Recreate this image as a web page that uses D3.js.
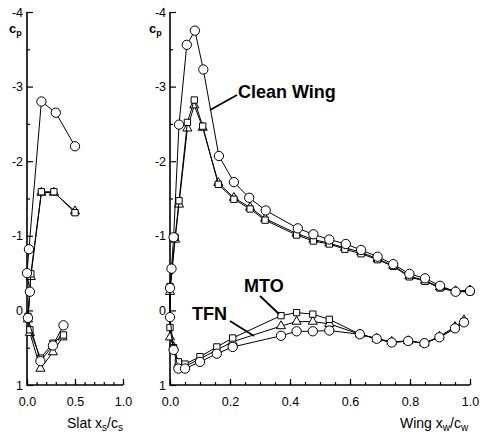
<!DOCTYPE html>
<html>
<head>
<meta charset="utf-8">
<script src="https://cdn.jsdelivr.net/npm/d3@7"></script>
<style>
  body { margin: 0; background: #fff; }
  text { font-family: "Liberation Sans", Arial, sans-serif; fill: #000; }
</style>
</head>
<body>
<div id="chart-area"></div>
<script>
// Slat pressure distribution, [x/c, cp], upper TE -> LE -> lower TE
const slatClean = [[0.50,-2.2],[0.30,-2.65],[0.15,-2.8],[0.02,-0.82],[0.0,-0.5],[0.03,-0.25],[0.01,0.1],[0.14,0.68],[0.27,0.47],[0.38,0.2]];
const slatMTO = [[0.50,-1.31],[0.28,-1.59],[0.15,-1.59],[0.04,-0.49],[0.01,0.08],[0.03,0.26],[0.14,0.64],[0.27,0.44],[0.38,0.33]];
const slatTFN = [[0.50,-1.33],[0.28,-1.58],[0.15,-1.58],[0.04,-0.45],[0.01,0.12],[0.03,0.3],[0.14,0.78],[0.27,0.56],[0.37,0.36]];

// Wing pressure distribution
const wingClean = [[1.0,-0.26],[0.952,-0.25],[0.9,-0.33],[0.85,-0.43],[0.798,-0.49],[0.744,-0.62],[0.692,-0.72],[0.637,-0.81],[0.586,-0.89],[0.531,-0.95],[0.478,-1.02],[0.426,-1.10],[0.319,-1.34],[0.264,-1.51],[0.213,-1.72],[0.163,-2.07],[0.111,-3.23],[0.083,-3.75],[0.056,-3.56],[0.03,-2.49],[0.012,-0.98],[0.005,-0.56],[0.0,-0.3],[0.0,0.09],[0.012,0.53],
  [0.028,0.78],[0.05,0.78],[0.1,0.69],[0.156,0.58],[0.209,0.49],[0.37,0.34],[0.422,0.28],[0.476,0.28],[0.531,0.27],[0.633,0.32],[0.689,0.38],[0.739,0.43],[0.794,0.41],[0.848,0.44],[0.898,0.36],[0.95,0.24],[0.98,0.16]];
const wingMTO = [[1.0,-0.25],[0.952,-0.25],[0.9,-0.30],[0.85,-0.39],[0.798,-0.45],[0.744,-0.59],[0.692,-0.68],[0.637,-0.76],[0.583,-0.82],[0.531,-0.89],[0.478,-0.93],[0.422,-1.01],[0.317,-1.21],[0.267,-1.36],[0.213,-1.49],[0.161,-1.69],[0.109,-2.47],[0.081,-2.82],[0.058,-2.52],[0.03,-1.47],[0.017,-0.98],[0.0,-0.32],[0.0,0.23],[0.012,0.5],
  [0.028,0.69],[0.05,0.72],[0.1,0.62],[0.156,0.49],[0.209,0.37],[0.37,0.07],[0.422,0.03],[0.476,0.05],[0.531,0.12],[0.633,0.32],[0.689,0.38],[0.739,0.43],[0.794,0.41],[0.848,0.44],[0.898,0.36],[0.95,0.24],[0.98,0.15]];
const wingTFN = [[1.0,-0.27],[0.952,-0.26],[0.9,-0.31],[0.85,-0.40],[0.798,-0.46],[0.744,-0.60],[0.692,-0.69],[0.637,-0.78],[0.583,-0.84],[0.531,-0.90],[0.478,-0.95],[0.422,-1.03],[0.317,-1.23],[0.267,-1.38],[0.213,-1.51],[0.161,-1.71],[0.109,-2.45],[0.081,-2.75],[0.058,-2.44],[0.03,-1.42],[0.017,-0.95],[0.0,-0.25],[0.0,0.36],[0.012,0.49],
  [0.028,0.72],[0.05,0.75],[0.1,0.65],[0.156,0.53],[0.209,0.42],[0.37,0.21],[0.422,0.15],[0.476,0.15],[0.531,0.18],[0.633,0.32],[0.689,0.38],[0.739,0.42],[0.794,0.41],[0.848,0.44],[0.898,0.35],[0.95,0.22],[0.98,0.13]];

const yTicks = [-4, -3, -2, -1, 0, 1];
const yMinor = [-3.5, -2.5, -1.5, -0.5, 0.5];
const slatTicks = [0, 0.5, 1];
const wingTicks = [0, 0.2, 0.4, 0.6, 0.8, 1];

const svg = d3.select("#chart-area").append("svg")
  .attr("width", 480).attr("height", 440);

const yScale = d3.scaleLinear().domain([-4, 1]).range([12, 385]);
const xSlat = d3.scaleLinear().domain([0, 1]).range([27, 123]);
const xWing = d3.scaleLinear().domain([0, 1]).range([170, 470]);

function drawAxes(x, majors, minorStep) {
  const g = svg.append("g");
  const left = x.range()[0];
  const bottom = yScale(1);
  const minors = d3.range(0, 1.0001, minorStep);

  // y axis, ticks pointing inward
  g.append("g").attr("transform", "translate(" + left + ",0)")
    .call(d3.axisLeft(yScale).tickValues(yTicks).tickSize(-6).tickPadding(4).tickFormat(d => String(d)));
  g.append("g").attr("transform", "translate(" + left + ",0)")
    .call(d3.axisLeft(yScale).tickValues(yMinor).tickSize(-3).tickFormat(""));
  // x axis
  g.append("g").attr("transform", "translate(0," + bottom + ")")
    .call(d3.axisBottom(x).tickValues(majors).tickSize(-6).tickPadding(12).tickFormat(d3.format(".1f")));
  g.append("g").attr("transform", "translate(0," + bottom + ")")
    .call(d3.axisBottom(x).tickValues(minors).tickSize(-3).tickFormat(""));

  g.selectAll(".domain").remove();
  g.selectAll(".tick line").attr("stroke", "#000").attr("stroke-width", 1.2);
  g.selectAll(".tick text").attr("font-size", "12.5px")
    .attr("font-family", "Liberation Sans, Arial, sans-serif");

  // axis lines
  g.append("path")
    .attr("d", "M" + left + "," + yScale(-4) + "V" + bottom + "H" + x.range()[1])
    .attr("fill", "none").attr("stroke", "#000").attr("stroke-width", 1.6);
}
drawAxes(xSlat, slatTicks, 0.1);
drawAxes(xWing, wingTicks, 0.05);

function drawSeries(x, data, marker) {
  const line = d3.line().x(d => x(d[0])).y(d => yScale(d[1]));
  svg.append("path").datum(data)
    .attr("d", line).attr("fill", "none").attr("stroke", "#000").attr("stroke-width", 1);
  const sym = marker === "circle" ? d3.symbolCircle : marker === "square" ? d3.symbolSquare : d3.symbolTriangle;
  const size = marker === "circle" ? 68 : marker === "square" ? 40 : 36;
  svg.append("g").selectAll("path").data(data).join("path")
    .attr("transform", d => "translate(" + x(d[0]) + "," + yScale(d[1]) + ")")
    .attr("d", d3.symbol().type(sym).size(size))
    .attr("fill", "#fff").attr("stroke", "#000").attr("stroke-width", 1);
}
drawSeries(xSlat, slatTFN, "triangle");
drawSeries(xSlat, slatMTO, "square");
drawSeries(xSlat, slatClean, "circle");
drawSeries(xWing, wingTFN, "triangle");
drawSeries(xWing, wingMTO, "square");
drawSeries(xWing, wingClean, "circle");

// cp labels
[[9, 33], [149, 33]].forEach(p => {
  const t = svg.append("text").attr("x", p[0]).attr("y", p[1])
    .attr("font-size", "13px").attr("font-weight", "bold");
  t.append("tspan").text("c");
  t.append("tspan").attr("font-size", "9px").attr("dy", 3).text("p");
});

// axis titles
const slatTitle = svg.append("text").attr("x", 67).attr("y", 428).attr("font-size", "14px");
slatTitle.append("tspan").text("Slat x");
slatTitle.append("tspan").attr("font-size", "10px").attr("dy", 3).text("s");
slatTitle.append("tspan").attr("dy", -3).text("/c");
slatTitle.append("tspan").attr("font-size", "10px").attr("dy", 3).text("s");

const wingTitle = svg.append("text").attr("x", 400).attr("y", 428).attr("font-size", "14px");
wingTitle.append("tspan").text("Wing x");
wingTitle.append("tspan").attr("font-size", "10px").attr("dy", 3).text("w");
wingTitle.append("tspan").attr("dy", -3).text("/c");
wingTitle.append("tspan").attr("font-size", "10px").attr("dy", 3).text("w");

// annotations
const notes = [
  { text: "Clean Wing", x: 238, y: 98, line: [[237, 95], [210, 110]] },
  { text: "MTO", x: 244, y: 292, line: [[260, 296], [279, 314]] },
  { text: "TFN", x: 192, y: 320, line: [[230, 321], [254, 336]] }
];
notes.forEach(n => {
  svg.append("text").attr("x", n.x).attr("y", n.y)
    .attr("font-size", "18px").attr("font-weight", "bold").text(n.text);
  svg.append("line")
    .attr("x1", n.line[0][0]).attr("y1", n.line[0][1])
    .attr("x2", n.line[1][0]).attr("y2", n.line[1][1])
    .attr("stroke", "#000").attr("stroke-width", 1.8);
});
</script>
</body>
</html>
